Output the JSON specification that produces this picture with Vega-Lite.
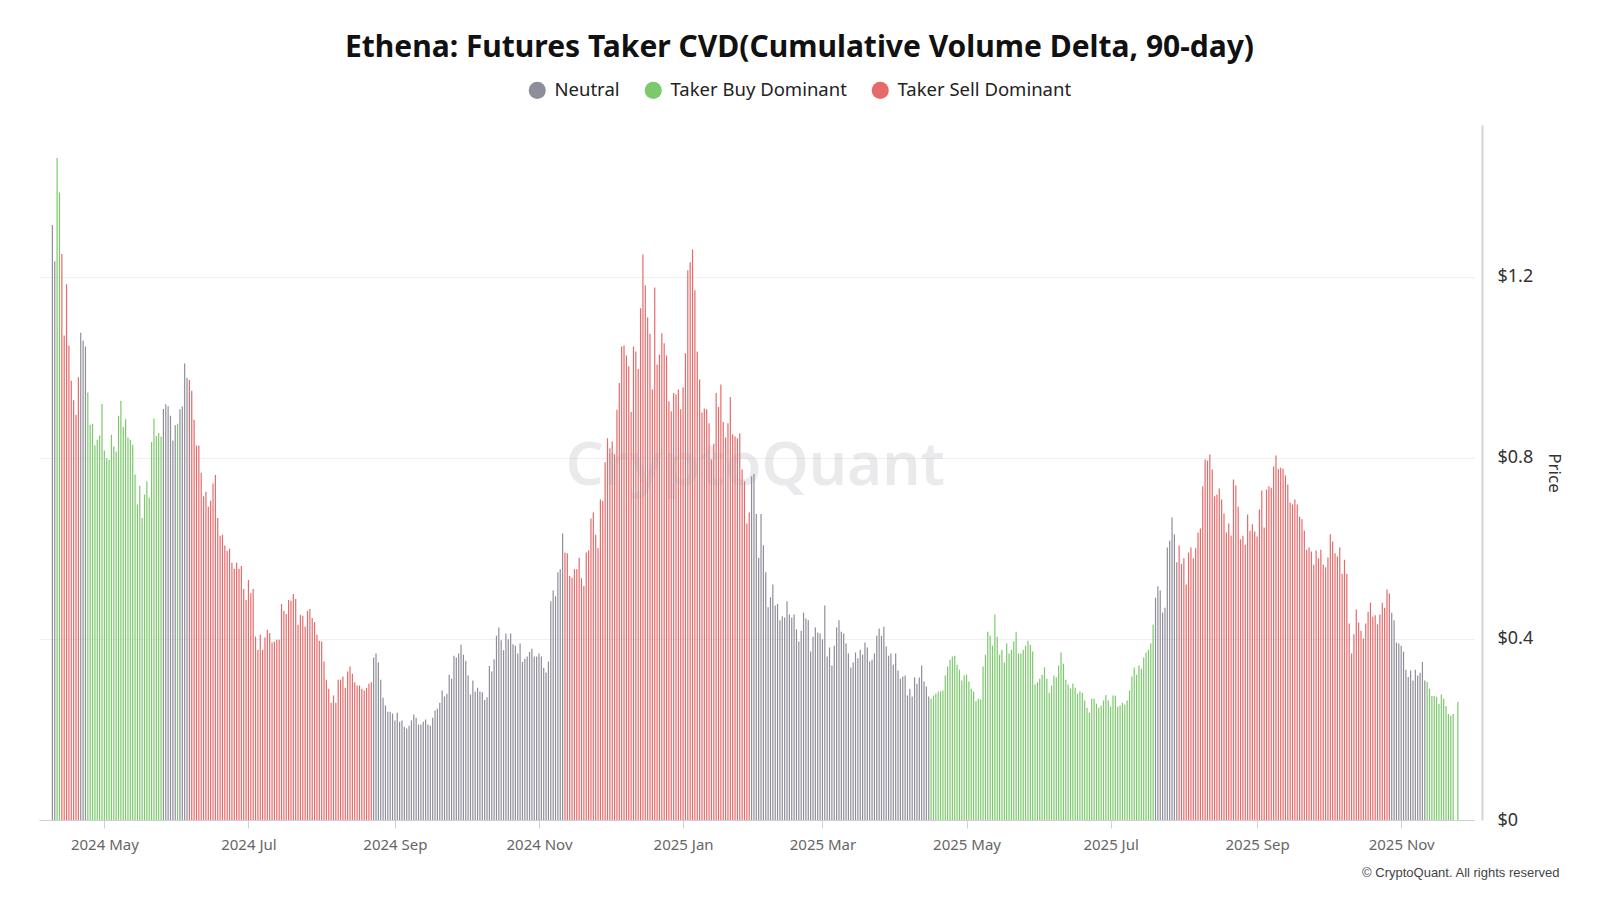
{
  "$schema": "https://vega.github.io/schema/vega-lite/v6.json",
  "width": 1435,
  "height": 695,
  "autosize": "none",
  "padding": {"left": 39, "top": 125, "right": 126, "bottom": 80},
  "background": "#ffffff",
  "config": {"view": {"stroke": null}, "font": "Noto Sans"},
  "title": {
    "text": "Ethena: Futures Taker CVD(Cumulative Volume Delta, 90-day)",
    "fontSize": 30,
    "fontWeight": "bold",
    "font": "Noto Sans",
    "color": "#111111",
    "anchor": "middle",
    "dx": 43,
    "offset": 18
  },
  "layer": [
    {
      "data": {
        "values": [
          {"d":"2024-04-09","v":1.314,"c":"N"},{"d":"2024-04-10","v":1.234,"c":"N"},{"d":"2024-04-11","v":1.462,"c":"B"},{"d":"2024-04-12","v":1.386,"c":"B"},
          {"d":"2024-04-13","v":1.250,"c":"S"},{"d":"2024-04-14","v":1.070,"c":"S"},{"d":"2024-04-15","v":1.183,"c":"S"},{"d":"2024-04-16","v":1.048,"c":"S"},
          {"d":"2024-04-17","v":0.970,"c":"S"},{"d":"2024-04-18","v":0.927,"c":"S"},{"d":"2024-04-19","v":0.895,"c":"S"},{"d":"2024-04-20","v":0.978,"c":"S"},
          {"d":"2024-04-21","v":1.076,"c":"N"},{"d":"2024-04-22","v":1.059,"c":"N"},{"d":"2024-04-23","v":1.046,"c":"N"},{"d":"2024-04-24","v":0.944,"c":"B"},
          {"d":"2024-04-25","v":0.873,"c":"B"},{"d":"2024-04-26","v":0.875,"c":"B"},{"d":"2024-04-27","v":0.827,"c":"B"},{"d":"2024-04-28","v":0.840,"c":"B"},
          {"d":"2024-04-29","v":0.849,"c":"B"},{"d":"2024-04-30","v":0.919,"c":"B"},
          {"d":"2024-05-01","v":0.816,"c":"B"},{"d":"2024-05-02","v":0.799,"c":"B"},{"d":"2024-05-03","v":0.795,"c":"B"},{"d":"2024-05-04","v":0.851,"c":"B"},
          {"d":"2024-05-05","v":0.825,"c":"B"},{"d":"2024-05-06","v":0.814,"c":"B"},{"d":"2024-05-07","v":0.893,"c":"B"},{"d":"2024-05-08","v":0.926,"c":"B"},
          {"d":"2024-05-09","v":0.868,"c":"B"},{"d":"2024-05-10","v":0.885,"c":"B"},{"d":"2024-05-11","v":0.845,"c":"B"},{"d":"2024-05-12","v":0.840,"c":"B"},
          {"d":"2024-05-13","v":0.829,"c":"B"},{"d":"2024-05-14","v":0.763,"c":"B"},{"d":"2024-05-15","v":0.697,"c":"B"},{"d":"2024-05-16","v":0.738,"c":"B"},
          {"d":"2024-05-17","v":0.667,"c":"B"},{"d":"2024-05-18","v":0.719,"c":"B"},{"d":"2024-05-19","v":0.748,"c":"B"},{"d":"2024-05-20","v":0.712,"c":"B"},
          {"d":"2024-05-21","v":0.835,"c":"B"},{"d":"2024-05-22","v":0.887,"c":"B"},{"d":"2024-05-23","v":0.848,"c":"B"},{"d":"2024-05-24","v":0.855,"c":"B"},
          {"d":"2024-05-25","v":0.847,"c":"B"},{"d":"2024-05-26","v":0.908,"c":"N"},{"d":"2024-05-27","v":0.918,"c":"N"},{"d":"2024-05-28","v":0.914,"c":"N"},
          {"d":"2024-05-29","v":0.893,"c":"N"},{"d":"2024-05-30","v":0.838,"c":"N"},{"d":"2024-05-31","v":0.872,"c":"N"},
          {"d":"2024-06-01","v":0.875,"c":"B"},{"d":"2024-06-02","v":0.907,"c":"N"},{"d":"2024-06-03","v":0.913,"c":"N"},{"d":"2024-06-04","v":1.008,"c":"N"},
          {"d":"2024-06-05","v":0.977,"c":"N"},{"d":"2024-06-06","v":0.972,"c":"S"},{"d":"2024-06-07","v":0.948,"c":"S"},{"d":"2024-06-08","v":0.884,"c":"S"},
          {"d":"2024-06-09","v":0.827,"c":"S"},{"d":"2024-06-10","v":0.827,"c":"S"},{"d":"2024-06-11","v":0.767,"c":"S"},{"d":"2024-06-12","v":0.715,"c":"S"},
          {"d":"2024-06-13","v":0.725,"c":"S"},{"d":"2024-06-14","v":0.692,"c":"S"},{"d":"2024-06-15","v":0.705,"c":"S"},{"d":"2024-06-16","v":0.743,"c":"S"},
          {"d":"2024-06-17","v":0.762,"c":"S"},{"d":"2024-06-18","v":0.667,"c":"S"},{"d":"2024-06-19","v":0.628,"c":"S"},{"d":"2024-06-20","v":0.630,"c":"S"},
          {"d":"2024-06-21","v":0.606,"c":"S"},{"d":"2024-06-22","v":0.594,"c":"S"},{"d":"2024-06-23","v":0.599,"c":"S"},{"d":"2024-06-24","v":0.568,"c":"S"},
          {"d":"2024-06-25","v":0.555,"c":"S"},{"d":"2024-06-26","v":0.568,"c":"S"},{"d":"2024-06-27","v":0.555,"c":"S"},{"d":"2024-06-28","v":0.561,"c":"S"},
          {"d":"2024-06-29","v":0.510,"c":"S"},{"d":"2024-06-30","v":0.486,"c":"S"},
          {"d":"2024-07-01","v":0.530,"c":"S"},{"d":"2024-07-02","v":0.501,"c":"S"},{"d":"2024-07-03","v":0.510,"c":"S"},{"d":"2024-07-04","v":0.405,"c":"S"},
          {"d":"2024-07-05","v":0.376,"c":"S"},{"d":"2024-07-06","v":0.409,"c":"S"},{"d":"2024-07-07","v":0.376,"c":"S"},{"d":"2024-07-08","v":0.403,"c":"S"},
          {"d":"2024-07-09","v":0.420,"c":"S"},{"d":"2024-07-10","v":0.413,"c":"S"},{"d":"2024-07-11","v":0.392,"c":"S"},{"d":"2024-07-12","v":0.394,"c":"S"},
          {"d":"2024-07-13","v":0.398,"c":"S"},{"d":"2024-07-14","v":0.398,"c":"S"},{"d":"2024-07-15","v":0.477,"c":"S"},{"d":"2024-07-16","v":0.462,"c":"S"},
          {"d":"2024-07-17","v":0.455,"c":"S"},{"d":"2024-07-18","v":0.486,"c":"S"},{"d":"2024-07-19","v":0.484,"c":"S"},{"d":"2024-07-20","v":0.499,"c":"S"},
          {"d":"2024-07-21","v":0.488,"c":"S"},{"d":"2024-07-22","v":0.431,"c":"S"},{"d":"2024-07-23","v":0.453,"c":"S"},{"d":"2024-07-24","v":0.451,"c":"S"},
          {"d":"2024-07-25","v":0.427,"c":"S"},{"d":"2024-07-26","v":0.462,"c":"S"},{"d":"2024-07-27","v":0.466,"c":"S"},{"d":"2024-07-28","v":0.446,"c":"S"},
          {"d":"2024-07-29","v":0.437,"c":"S"},{"d":"2024-07-30","v":0.409,"c":"S"},{"d":"2024-07-31","v":0.396,"c":"S"},
          {"d":"2024-08-01","v":0.394,"c":"S"},{"d":"2024-08-02","v":0.350,"c":"S"},{"d":"2024-08-03","v":0.310,"c":"S"},{"d":"2024-08-04","v":0.290,"c":"S"},
          {"d":"2024-08-05","v":0.259,"c":"S"},{"d":"2024-08-06","v":0.275,"c":"S"},{"d":"2024-08-07","v":0.259,"c":"S"},{"d":"2024-08-08","v":0.310,"c":"S"},
          {"d":"2024-08-09","v":0.310,"c":"S"},{"d":"2024-08-10","v":0.317,"c":"S"},{"d":"2024-08-11","v":0.292,"c":"S"},{"d":"2024-08-12","v":0.328,"c":"S"},
          {"d":"2024-08-13","v":0.339,"c":"S"},{"d":"2024-08-14","v":0.323,"c":"S"},{"d":"2024-08-15","v":0.304,"c":"S"},{"d":"2024-08-16","v":0.297,"c":"S"},
          {"d":"2024-08-17","v":0.297,"c":"S"},{"d":"2024-08-18","v":0.290,"c":"S"},{"d":"2024-08-19","v":0.286,"c":"S"},{"d":"2024-08-20","v":0.292,"c":"S"},
          {"d":"2024-08-21","v":0.301,"c":"S"},{"d":"2024-08-22","v":0.304,"c":"S"},{"d":"2024-08-23","v":0.359,"c":"N"},{"d":"2024-08-24","v":0.368,"c":"N"},
          {"d":"2024-08-25","v":0.348,"c":"N"},{"d":"2024-08-26","v":0.310,"c":"N"},{"d":"2024-08-27","v":0.270,"c":"N"},{"d":"2024-08-28","v":0.253,"c":"N"},
          {"d":"2024-08-29","v":0.239,"c":"N"},{"d":"2024-08-30","v":0.239,"c":"N"},{"d":"2024-08-31","v":0.235,"c":"N"},
          {"d":"2024-09-01","v":0.220,"c":"N"},{"d":"2024-09-02","v":0.237,"c":"N"},{"d":"2024-09-03","v":0.217,"c":"N"},{"d":"2024-09-04","v":0.220,"c":"N"},
          {"d":"2024-09-05","v":0.206,"c":"N"},{"d":"2024-09-06","v":0.202,"c":"N"},{"d":"2024-09-07","v":0.208,"c":"N"},{"d":"2024-09-08","v":0.220,"c":"N"},
          {"d":"2024-09-09","v":0.233,"c":"N"},{"d":"2024-09-10","v":0.226,"c":"N"},{"d":"2024-09-11","v":0.211,"c":"N"},{"d":"2024-09-12","v":0.211,"c":"N"},
          {"d":"2024-09-13","v":0.217,"c":"N"},{"d":"2024-09-14","v":0.222,"c":"N"},{"d":"2024-09-15","v":0.211,"c":"N"},{"d":"2024-09-16","v":0.208,"c":"N"},
          {"d":"2024-09-17","v":0.226,"c":"N"},{"d":"2024-09-18","v":0.242,"c":"N"},{"d":"2024-09-19","v":0.246,"c":"N"},{"d":"2024-09-20","v":0.259,"c":"N"},
          {"d":"2024-09-21","v":0.286,"c":"N"},{"d":"2024-09-22","v":0.273,"c":"N"},{"d":"2024-09-23","v":0.279,"c":"N"},{"d":"2024-09-24","v":0.321,"c":"N"},
          {"d":"2024-09-25","v":0.312,"c":"N"},{"d":"2024-09-26","v":0.363,"c":"N"},{"d":"2024-09-27","v":0.359,"c":"N"},{"d":"2024-09-28","v":0.368,"c":"N"},
          {"d":"2024-09-29","v":0.387,"c":"N"},{"d":"2024-09-30","v":0.365,"c":"N"},
          {"d":"2024-10-01","v":0.352,"c":"N"},{"d":"2024-10-02","v":0.319,"c":"N"},{"d":"2024-10-03","v":0.277,"c":"N"},{"d":"2024-10-04","v":0.308,"c":"N"},
          {"d":"2024-10-05","v":0.284,"c":"N"},{"d":"2024-10-06","v":0.292,"c":"N"},{"d":"2024-10-07","v":0.284,"c":"N"},{"d":"2024-10-08","v":0.282,"c":"N"},
          {"d":"2024-10-09","v":0.265,"c":"N"},{"d":"2024-10-10","v":0.271,"c":"N"},{"d":"2024-10-11","v":0.340,"c":"N"},{"d":"2024-10-12","v":0.328,"c":"N"},
          {"d":"2024-10-13","v":0.355,"c":"N"},{"d":"2024-10-14","v":0.407,"c":"N"},{"d":"2024-10-15","v":0.425,"c":"N"},{"d":"2024-10-16","v":0.397,"c":"N"},
          {"d":"2024-10-17","v":0.375,"c":"N"},{"d":"2024-10-18","v":0.412,"c":"N"},{"d":"2024-10-19","v":0.399,"c":"N"},{"d":"2024-10-20","v":0.412,"c":"N"},
          {"d":"2024-10-21","v":0.388,"c":"N"},{"d":"2024-10-22","v":0.385,"c":"N"},{"d":"2024-10-23","v":0.368,"c":"N"},{"d":"2024-10-24","v":0.390,"c":"N"},
          {"d":"2024-10-25","v":0.349,"c":"N"},{"d":"2024-10-26","v":0.356,"c":"N"},{"d":"2024-10-27","v":0.361,"c":"N"},{"d":"2024-10-28","v":0.371,"c":"N"},
          {"d":"2024-10-29","v":0.378,"c":"N"},{"d":"2024-10-30","v":0.361,"c":"N"},{"d":"2024-10-31","v":0.361,"c":"N"},
          {"d":"2024-11-01","v":0.368,"c":"N"},{"d":"2024-11-02","v":0.361,"c":"N"},{"d":"2024-11-03","v":0.336,"c":"N"},{"d":"2024-11-04","v":0.326,"c":"N"},
          {"d":"2024-11-05","v":0.350,"c":"N"},{"d":"2024-11-06","v":0.483,"c":"N"},{"d":"2024-11-07","v":0.507,"c":"N"},{"d":"2024-11-08","v":0.494,"c":"N"},
          {"d":"2024-11-09","v":0.547,"c":"N"},{"d":"2024-11-10","v":0.554,"c":"N"},{"d":"2024-11-11","v":0.633,"c":"N"},{"d":"2024-11-12","v":0.591,"c":"S"},
          {"d":"2024-11-13","v":0.589,"c":"S"},{"d":"2024-11-14","v":0.539,"c":"S"},{"d":"2024-11-15","v":0.535,"c":"S"},{"d":"2024-11-16","v":0.554,"c":"S"},
          {"d":"2024-11-17","v":0.554,"c":"S"},{"d":"2024-11-18","v":0.579,"c":"S"},{"d":"2024-11-19","v":0.534,"c":"S"},{"d":"2024-11-20","v":0.517,"c":"S"},
          {"d":"2024-11-21","v":0.591,"c":"S"},{"d":"2024-11-22","v":0.596,"c":"S"},{"d":"2024-11-23","v":0.666,"c":"S"},{"d":"2024-11-24","v":0.679,"c":"S"},
          {"d":"2024-11-25","v":0.630,"c":"S"},{"d":"2024-11-26","v":0.601,"c":"S"},{"d":"2024-11-27","v":0.708,"c":"S"},{"d":"2024-11-28","v":0.705,"c":"S"},
          {"d":"2024-11-29","v":0.790,"c":"S"},{"d":"2024-11-30","v":0.843,"c":"S"},
          {"d":"2024-12-01","v":0.821,"c":"S"},{"d":"2024-12-02","v":0.836,"c":"S"},{"d":"2024-12-03","v":0.808,"c":"S"},{"d":"2024-12-04","v":0.906,"c":"S"},
          {"d":"2024-12-05","v":0.965,"c":"S"},{"d":"2024-12-06","v":1.046,"c":"S"},{"d":"2024-12-07","v":1.048,"c":"S"},{"d":"2024-12-08","v":1.026,"c":"S"},
          {"d":"2024-12-09","v":1.002,"c":"S"},{"d":"2024-12-10","v":0.901,"c":"S"},{"d":"2024-12-11","v":1.046,"c":"S"},{"d":"2024-12-12","v":1.035,"c":"S"},
          {"d":"2024-12-13","v":0.996,"c":"S"},{"d":"2024-12-14","v":1.130,"c":"S"},{"d":"2024-12-15","v":1.249,"c":"S"},{"d":"2024-12-16","v":1.181,"c":"S"},
          {"d":"2024-12-17","v":1.110,"c":"S"},{"d":"2024-12-18","v":1.074,"c":"S"},{"d":"2024-12-19","v":0.951,"c":"S"},{"d":"2024-12-20","v":1.176,"c":"S"},
          {"d":"2024-12-21","v":1.006,"c":"S"},{"d":"2024-12-22","v":1.028,"c":"S"},{"d":"2024-12-23","v":1.075,"c":"S"},{"d":"2024-12-24","v":1.053,"c":"S"},
          {"d":"2024-12-25","v":1.026,"c":"S"},{"d":"2024-12-26","v":0.925,"c":"S"},{"d":"2024-12-27","v":0.903,"c":"S"},{"d":"2024-12-28","v":0.943,"c":"S"},
          {"d":"2024-12-29","v":0.940,"c":"S"},{"d":"2024-12-30","v":0.951,"c":"S"},{"d":"2024-12-31","v":0.907,"c":"S"},
          {"d":"2025-01-01","v":0.956,"c":"S"},{"d":"2025-01-02","v":1.031,"c":"S"},{"d":"2025-01-03","v":1.214,"c":"S"},{"d":"2025-01-04","v":1.232,"c":"S"},
          {"d":"2025-01-05","v":1.260,"c":"S"},{"d":"2025-01-06","v":1.170,"c":"S"},{"d":"2025-01-07","v":1.035,"c":"S"},{"d":"2025-01-08","v":0.973,"c":"S"},
          {"d":"2025-01-09","v":0.900,"c":"S"},{"d":"2025-01-10","v":0.909,"c":"S"},{"d":"2025-01-11","v":0.907,"c":"S"},{"d":"2025-01-12","v":0.876,"c":"S"},
          {"d":"2025-01-13","v":0.796,"c":"S"},{"d":"2025-01-14","v":0.831,"c":"S"},{"d":"2025-01-15","v":0.943,"c":"S"},{"d":"2025-01-16","v":0.912,"c":"S"},
          {"d":"2025-01-17","v":0.962,"c":"S"},{"d":"2025-01-18","v":0.879,"c":"S"},{"d":"2025-01-19","v":0.845,"c":"S"},{"d":"2025-01-20","v":0.876,"c":"S"},
          {"d":"2025-01-21","v":0.934,"c":"S"},{"d":"2025-01-22","v":0.852,"c":"S"},{"d":"2025-01-23","v":0.847,"c":"S"},{"d":"2025-01-24","v":0.843,"c":"S"},
          {"d":"2025-01-25","v":0.854,"c":"S"},{"d":"2025-01-26","v":0.774,"c":"S"},{"d":"2025-01-27","v":0.748,"c":"S"},{"d":"2025-01-28","v":0.655,"c":"S"},
          {"d":"2025-01-29","v":0.679,"c":"S"},{"d":"2025-01-30","v":0.759,"c":"N"},{"d":"2025-01-31","v":0.764,"c":"N"},
          {"d":"2025-02-01","v":0.676,"c":"N"},{"d":"2025-02-02","v":0.579,"c":"N"},{"d":"2025-02-03","v":0.676,"c":"N"},{"d":"2025-02-04","v":0.607,"c":"N"},
          {"d":"2025-02-05","v":0.547,"c":"N"},{"d":"2025-02-06","v":0.470,"c":"N"},{"d":"2025-02-07","v":0.492,"c":"N"},{"d":"2025-02-08","v":0.520,"c":"N"},
          {"d":"2025-02-09","v":0.474,"c":"N"},{"d":"2025-02-10","v":0.477,"c":"N"},{"d":"2025-02-11","v":0.441,"c":"N"},{"d":"2025-02-12","v":0.450,"c":"N"},
          {"d":"2025-02-13","v":0.447,"c":"N"},{"d":"2025-02-14","v":0.483,"c":"N"},{"d":"2025-02-15","v":0.454,"c":"N"},{"d":"2025-02-16","v":0.447,"c":"N"},
          {"d":"2025-02-17","v":0.454,"c":"N"},{"d":"2025-02-18","v":0.421,"c":"N"},{"d":"2025-02-19","v":0.394,"c":"N"},{"d":"2025-02-20","v":0.418,"c":"N"},
          {"d":"2025-02-21","v":0.458,"c":"N"},{"d":"2025-02-22","v":0.445,"c":"N"},{"d":"2025-02-23","v":0.441,"c":"N"},{"d":"2025-02-24","v":0.372,"c":"N"},
          {"d":"2025-02-25","v":0.405,"c":"N"},{"d":"2025-02-26","v":0.425,"c":"N"},{"d":"2025-02-27","v":0.414,"c":"N"},{"d":"2025-02-28","v":0.412,"c":"N"},
          {"d":"2025-03-01","v":0.399,"c":"N"},{"d":"2025-03-02","v":0.474,"c":"N"},{"d":"2025-03-03","v":0.361,"c":"N"},{"d":"2025-03-04","v":0.381,"c":"N"},
          {"d":"2025-03-05","v":0.341,"c":"N"},{"d":"2025-03-06","v":0.385,"c":"N"},{"d":"2025-03-07","v":0.425,"c":"N"},{"d":"2025-03-08","v":0.441,"c":"N"},
          {"d":"2025-03-09","v":0.416,"c":"N"},{"d":"2025-03-10","v":0.412,"c":"N"},{"d":"2025-03-11","v":0.390,"c":"N"},{"d":"2025-03-12","v":0.368,"c":"N"},
          {"d":"2025-03-13","v":0.337,"c":"N"},{"d":"2025-03-14","v":0.348,"c":"N"},{"d":"2025-03-15","v":0.370,"c":"N"},{"d":"2025-03-16","v":0.357,"c":"N"},
          {"d":"2025-03-17","v":0.376,"c":"N"},{"d":"2025-03-18","v":0.365,"c":"N"},{"d":"2025-03-19","v":0.392,"c":"N"},{"d":"2025-03-20","v":0.381,"c":"N"},
          {"d":"2025-03-21","v":0.350,"c":"N"},{"d":"2025-03-22","v":0.354,"c":"N"},{"d":"2025-03-23","v":0.368,"c":"N"},{"d":"2025-03-24","v":0.407,"c":"N"},
          {"d":"2025-03-25","v":0.423,"c":"N"},{"d":"2025-03-26","v":0.407,"c":"N"},{"d":"2025-03-27","v":0.427,"c":"N"},{"d":"2025-03-28","v":0.383,"c":"N"},
          {"d":"2025-03-29","v":0.363,"c":"N"},{"d":"2025-03-30","v":0.368,"c":"N"},{"d":"2025-03-31","v":0.343,"c":"N"},
          {"d":"2025-04-01","v":0.368,"c":"N"},{"d":"2025-04-02","v":0.330,"c":"N"},{"d":"2025-04-03","v":0.312,"c":"N"},{"d":"2025-04-04","v":0.317,"c":"N"},
          {"d":"2025-04-05","v":0.319,"c":"N"},{"d":"2025-04-06","v":0.275,"c":"N"},{"d":"2025-04-07","v":0.290,"c":"N"},{"d":"2025-04-08","v":0.273,"c":"N"},
          {"d":"2025-04-09","v":0.315,"c":"N"},{"d":"2025-04-10","v":0.301,"c":"N"},{"d":"2025-04-11","v":0.315,"c":"N"},{"d":"2025-04-12","v":0.341,"c":"N"},
          {"d":"2025-04-13","v":0.306,"c":"N"},{"d":"2025-04-14","v":0.295,"c":"N"},{"d":"2025-04-15","v":0.273,"c":"N"},{"d":"2025-04-16","v":0.268,"c":"B"},
          {"d":"2025-04-17","v":0.275,"c":"B"},{"d":"2025-04-18","v":0.279,"c":"B"},{"d":"2025-04-19","v":0.284,"c":"B"},{"d":"2025-04-20","v":0.284,"c":"B"},
          {"d":"2025-04-21","v":0.286,"c":"B"},{"d":"2025-04-22","v":0.319,"c":"B"},{"d":"2025-04-23","v":0.339,"c":"B"},{"d":"2025-04-24","v":0.354,"c":"B"},
          {"d":"2025-04-25","v":0.361,"c":"B"},{"d":"2025-04-26","v":0.363,"c":"B"},{"d":"2025-04-27","v":0.343,"c":"B"},{"d":"2025-04-28","v":0.332,"c":"B"},
          {"d":"2025-04-29","v":0.308,"c":"B"},{"d":"2025-04-30","v":0.319,"c":"B"},
          {"d":"2025-05-01","v":0.321,"c":"B"},{"d":"2025-05-02","v":0.306,"c":"B"},{"d":"2025-05-03","v":0.290,"c":"B"},{"d":"2025-05-04","v":0.284,"c":"B"},
          {"d":"2025-05-05","v":0.262,"c":"B"},{"d":"2025-05-06","v":0.268,"c":"B"},{"d":"2025-05-07","v":0.266,"c":"B"},{"d":"2025-05-08","v":0.339,"c":"B"},
          {"d":"2025-05-09","v":0.365,"c":"B"},{"d":"2025-05-10","v":0.416,"c":"B"},{"d":"2025-05-11","v":0.407,"c":"B"},{"d":"2025-05-12","v":0.385,"c":"B"},
          {"d":"2025-05-13","v":0.454,"c":"B"},{"d":"2025-05-14","v":0.405,"c":"B"},{"d":"2025-05-15","v":0.365,"c":"B"},{"d":"2025-05-16","v":0.376,"c":"B"},
          {"d":"2025-05-17","v":0.348,"c":"B"},{"d":"2025-05-18","v":0.390,"c":"B"},{"d":"2025-05-19","v":0.368,"c":"B"},{"d":"2025-05-20","v":0.376,"c":"B"},
          {"d":"2025-05-21","v":0.394,"c":"B"},{"d":"2025-05-22","v":0.416,"c":"B"},{"d":"2025-05-23","v":0.368,"c":"B"},{"d":"2025-05-24","v":0.368,"c":"B"},
          {"d":"2025-05-25","v":0.376,"c":"B"},{"d":"2025-05-26","v":0.385,"c":"B"},{"d":"2025-05-27","v":0.396,"c":"B"},{"d":"2025-05-28","v":0.387,"c":"B"},
          {"d":"2025-05-29","v":0.372,"c":"B"},{"d":"2025-05-30","v":0.299,"c":"B"},{"d":"2025-05-31","v":0.304,"c":"B"},
          {"d":"2025-06-01","v":0.312,"c":"B"},{"d":"2025-06-02","v":0.321,"c":"B"},{"d":"2025-06-03","v":0.337,"c":"B"},{"d":"2025-06-04","v":0.312,"c":"B"},
          {"d":"2025-06-05","v":0.281,"c":"B"},{"d":"2025-06-06","v":0.297,"c":"B"},{"d":"2025-06-07","v":0.319,"c":"B"},{"d":"2025-06-08","v":0.315,"c":"B"},
          {"d":"2025-06-09","v":0.341,"c":"B"},{"d":"2025-06-10","v":0.370,"c":"B"},{"d":"2025-06-11","v":0.345,"c":"B"},{"d":"2025-06-12","v":0.310,"c":"B"},
          {"d":"2025-06-13","v":0.299,"c":"B"},{"d":"2025-06-14","v":0.290,"c":"B"},{"d":"2025-06-15","v":0.301,"c":"B"},{"d":"2025-06-16","v":0.292,"c":"B"},
          {"d":"2025-06-17","v":0.279,"c":"B"},{"d":"2025-06-18","v":0.284,"c":"B"},{"d":"2025-06-19","v":0.281,"c":"B"},{"d":"2025-06-20","v":0.264,"c":"B"},
          {"d":"2025-06-21","v":0.248,"c":"B"},{"d":"2025-06-22","v":0.237,"c":"B"},{"d":"2025-06-23","v":0.268,"c":"B"},{"d":"2025-06-24","v":0.268,"c":"B"},
          {"d":"2025-06-25","v":0.257,"c":"B"},{"d":"2025-06-26","v":0.248,"c":"B"},{"d":"2025-06-27","v":0.253,"c":"B"},{"d":"2025-06-28","v":0.264,"c":"B"},
          {"d":"2025-06-29","v":0.276,"c":"B"},{"d":"2025-06-30","v":0.264,"c":"B"},
          {"d":"2025-07-01","v":0.250,"c":"B"},{"d":"2025-07-02","v":0.275,"c":"B"},{"d":"2025-07-03","v":0.275,"c":"B"},{"d":"2025-07-04","v":0.250,"c":"B"},
          {"d":"2025-07-05","v":0.253,"c":"B"},{"d":"2025-07-06","v":0.259,"c":"B"},{"d":"2025-07-07","v":0.255,"c":"B"},{"d":"2025-07-08","v":0.264,"c":"B"},
          {"d":"2025-07-09","v":0.286,"c":"B"},{"d":"2025-07-10","v":0.317,"c":"B"},{"d":"2025-07-11","v":0.337,"c":"B"},{"d":"2025-07-12","v":0.321,"c":"B"},
          {"d":"2025-07-13","v":0.341,"c":"B"},{"d":"2025-07-14","v":0.334,"c":"B"},{"d":"2025-07-15","v":0.359,"c":"B"},{"d":"2025-07-16","v":0.370,"c":"B"},
          {"d":"2025-07-17","v":0.376,"c":"B"},{"d":"2025-07-18","v":0.390,"c":"B"},{"d":"2025-07-19","v":0.432,"c":"B"},{"d":"2025-07-20","v":0.491,"c":"N"},
          {"d":"2025-07-21","v":0.516,"c":"N"},{"d":"2025-07-22","v":0.507,"c":"N"},{"d":"2025-07-23","v":0.458,"c":"N"},{"d":"2025-07-24","v":0.469,"c":"N"},
          {"d":"2025-07-25","v":0.602,"c":"N"},{"d":"2025-07-26","v":0.617,"c":"N"},{"d":"2025-07-27","v":0.668,"c":"N"},{"d":"2025-07-28","v":0.631,"c":"N"},
          {"d":"2025-07-29","v":0.569,"c":"N"},{"d":"2025-07-30","v":0.606,"c":"S"},{"d":"2025-07-31","v":0.566,"c":"S"},
          {"d":"2025-08-01","v":0.578,"c":"S"},{"d":"2025-08-02","v":0.520,"c":"S"},{"d":"2025-08-03","v":0.591,"c":"S"},{"d":"2025-08-04","v":0.602,"c":"S"},
          {"d":"2025-08-05","v":0.578,"c":"S"},{"d":"2025-08-06","v":0.600,"c":"S"},{"d":"2025-08-07","v":0.635,"c":"S"},{"d":"2025-08-08","v":0.644,"c":"S"},
          {"d":"2025-08-09","v":0.737,"c":"S"},{"d":"2025-08-10","v":0.796,"c":"S"},{"d":"2025-08-11","v":0.794,"c":"S"},{"d":"2025-08-12","v":0.807,"c":"S"},
          {"d":"2025-08-13","v":0.774,"c":"S"},{"d":"2025-08-14","v":0.715,"c":"S"},{"d":"2025-08-15","v":0.719,"c":"S"},{"d":"2025-08-16","v":0.732,"c":"S"},
          {"d":"2025-08-17","v":0.708,"c":"S"},{"d":"2025-08-18","v":0.677,"c":"S"},{"d":"2025-08-19","v":0.635,"c":"S"},{"d":"2025-08-20","v":0.655,"c":"S"},
          {"d":"2025-08-21","v":0.628,"c":"S"},{"d":"2025-08-22","v":0.752,"c":"S"},{"d":"2025-08-23","v":0.739,"c":"S"},{"d":"2025-08-24","v":0.692,"c":"S"},
          {"d":"2025-08-25","v":0.620,"c":"S"},{"d":"2025-08-26","v":0.628,"c":"S"},{"d":"2025-08-27","v":0.608,"c":"S"},{"d":"2025-08-28","v":0.675,"c":"S"},
          {"d":"2025-08-29","v":0.639,"c":"S"},{"d":"2025-08-30","v":0.653,"c":"S"},{"d":"2025-08-31","v":0.637,"c":"S"},
          {"d":"2025-09-01","v":0.626,"c":"S"},{"d":"2025-09-02","v":0.686,"c":"S"},{"d":"2025-09-03","v":0.728,"c":"S"},{"d":"2025-09-04","v":0.646,"c":"S"},
          {"d":"2025-09-05","v":0.730,"c":"S"},{"d":"2025-09-06","v":0.737,"c":"S"},{"d":"2025-09-07","v":0.734,"c":"S"},{"d":"2025-09-08","v":0.781,"c":"S"},
          {"d":"2025-09-09","v":0.805,"c":"S"},{"d":"2025-09-10","v":0.776,"c":"S"},{"d":"2025-09-11","v":0.778,"c":"S"},{"d":"2025-09-12","v":0.776,"c":"S"},
          {"d":"2025-09-13","v":0.761,"c":"S"},{"d":"2025-09-14","v":0.741,"c":"S"},{"d":"2025-09-15","v":0.701,"c":"S"},{"d":"2025-09-16","v":0.697,"c":"S"},
          {"d":"2025-09-17","v":0.708,"c":"S"},{"d":"2025-09-18","v":0.697,"c":"S"},{"d":"2025-09-19","v":0.670,"c":"S"},{"d":"2025-09-20","v":0.664,"c":"S"},
          {"d":"2025-09-21","v":0.639,"c":"S"},{"d":"2025-09-22","v":0.597,"c":"S"},{"d":"2025-09-23","v":0.602,"c":"S"},{"d":"2025-09-24","v":0.593,"c":"S"},
          {"d":"2025-09-25","v":0.564,"c":"S"},{"d":"2025-09-26","v":0.595,"c":"S"},{"d":"2025-09-27","v":0.578,"c":"S"},{"d":"2025-09-28","v":0.597,"c":"S"},
          {"d":"2025-09-29","v":0.564,"c":"S"},{"d":"2025-09-30","v":0.558,"c":"S"},
          {"d":"2025-10-01","v":0.580,"c":"S"},{"d":"2025-10-02","v":0.631,"c":"S"},{"d":"2025-10-03","v":0.615,"c":"S"},{"d":"2025-10-04","v":0.589,"c":"S"},
          {"d":"2025-10-05","v":0.582,"c":"S"},{"d":"2025-10-06","v":0.602,"c":"S"},{"d":"2025-10-07","v":0.544,"c":"S"},{"d":"2025-10-08","v":0.575,"c":"S"},
          {"d":"2025-10-09","v":0.544,"c":"S"},{"d":"2025-10-10","v":0.434,"c":"S"},{"d":"2025-10-11","v":0.368,"c":"S"},{"d":"2025-10-12","v":0.410,"c":"S"},
          {"d":"2025-10-13","v":0.465,"c":"S"},{"d":"2025-10-14","v":0.436,"c":"S"},{"d":"2025-10-15","v":0.418,"c":"S"},{"d":"2025-10-16","v":0.401,"c":"S"},
          {"d":"2025-10-17","v":0.434,"c":"S"},{"d":"2025-10-18","v":0.460,"c":"S"},{"d":"2025-10-19","v":0.480,"c":"S"},{"d":"2025-10-20","v":0.449,"c":"S"},
          {"d":"2025-10-21","v":0.452,"c":"S"},{"d":"2025-10-22","v":0.432,"c":"S"},{"d":"2025-10-23","v":0.454,"c":"S"},{"d":"2025-10-24","v":0.480,"c":"S"},
          {"d":"2025-10-25","v":0.469,"c":"S"},{"d":"2025-10-26","v":0.509,"c":"S"},{"d":"2025-10-27","v":0.500,"c":"S"},{"d":"2025-10-28","v":0.458,"c":"N"},
          {"d":"2025-10-29","v":0.441,"c":"N"},{"d":"2025-10-30","v":0.392,"c":"N"},{"d":"2025-10-31","v":0.390,"c":"N"},
          {"d":"2025-11-01","v":0.385,"c":"N"},{"d":"2025-11-02","v":0.372,"c":"N"},{"d":"2025-11-03","v":0.332,"c":"N"},{"d":"2025-11-04","v":0.316,"c":"N"},
          {"d":"2025-11-05","v":0.330,"c":"N"},{"d":"2025-11-06","v":0.308,"c":"N"},{"d":"2025-11-07","v":0.332,"c":"N"},{"d":"2025-11-08","v":0.319,"c":"N"},
          {"d":"2025-11-09","v":0.325,"c":"N"},{"d":"2025-11-10","v":0.349,"c":"N"},{"d":"2025-11-11","v":0.308,"c":"N"},{"d":"2025-11-12","v":0.305,"c":"B"},
          {"d":"2025-11-13","v":0.290,"c":"B"},{"d":"2025-11-14","v":0.274,"c":"B"},{"d":"2025-11-15","v":0.274,"c":"B"},{"d":"2025-11-16","v":0.272,"c":"B"},
          {"d":"2025-11-17","v":0.257,"c":"B"},{"d":"2025-11-18","v":0.277,"c":"B"},{"d":"2025-11-19","v":0.268,"c":"B"},{"d":"2025-11-20","v":0.252,"c":"B"},
          {"d":"2025-11-21","v":0.234,"c":"B"},{"d":"2025-11-22","v":0.230,"c":"B"},{"d":"2025-11-23","v":0.234,"c":"B"},{"d":"2025-11-25","v":0.261,"c":"B"}
        ]
      },
      "mark": {"type": "bar", "size": 1.2},
      "encoding": {
        "x": {
          "field": "d",
          "type": "temporal",
          "scale": {
            "type": "utc",
            "padding": 0,
            "domain": [
              {"year": 2024, "month": 4, "date": 3, "hours": 8, "utc": true},
              {"year": 2025, "month": 12, "date": 1, "hours": 20, "utc": true}
            ]
          },
          "axis": {
            "values": [
              {"year": 2024, "month": 5, "date": 1, "utc": true},
              {"year": 2024, "month": 7, "date": 1, "utc": true},
              {"year": 2024, "month": 9, "date": 1, "utc": true},
              {"year": 2024, "month": 11, "date": 1, "utc": true},
              {"year": 2025, "month": 1, "date": 1, "utc": true},
              {"year": 2025, "month": 3, "date": 1, "utc": true},
              {"year": 2025, "month": 5, "date": 1, "utc": true},
              {"year": 2025, "month": 7, "date": 1, "utc": true},
              {"year": 2025, "month": 9, "date": 1, "utc": true},
              {"year": 2025, "month": 11, "date": 1, "utc": true}
            ],
            "labelExpr": "utcFormat(datum.value, '%Y %b')",
            "labelFlush": false,
            "labelOverlap": false,
            "ticks": true,
            "tickColor": "#d0d0d8",
            "tickSize": 8,
            "grid": false,
            "domainColor": "#cfcfd8",
            "labelFont": "Noto Sans",
            "labelFontSize": 15,
            "labelColor": "#666666",
            "labelPadding": 9,
            "title": "© CryptoQuant. All rights reserved",
            "titleX": 1520,
            "titleY": 52,
            "titleAlign": "right",
            "titleBaseline": "middle",
            "titleFont": "Liberation Sans",
            "titleFontSize": 13,
            "titleFontWeight": "normal",
            "titleColor": "#444444"
          }
        },
        "y": {
          "field": "v",
          "type": "quantitative",
          "scale": {"domain": [0, 1.535], "nice": false},
          "axis": {
            "orient": "right",
            "values": [0, 0.4, 0.8, 1.2],
            "labelExpr": "'$' + datum.value",
            "grid": true,
            "gridColor": "#f0f0f2",
            "ticks": false,
            "domainColor": "#d4d4dc",
            "domainWidth": 2,
            "offset": 8,
            "labelFont": "Noto Sans",
            "labelFontSize": 18,
            "labelColor": "#333333",
            "labelPadding": 15,
            "title": "Price",
            "titleAngle": 90,
            "titleFont": "Noto Sans",
            "titleFontSize": 17,
            "titleFontWeight": "normal",
            "titleColor": "#333333",
            "titlePadding": 12
          }
        },
        "color": {
          "field": "c",
          "type": "nominal",
          "scale": {"domain": ["N", "B", "S"], "range": ["#8e8e9a", "#7bc96b", "#e66a6a"]},
          "legend": {
            "orient": "none",
            "legendX": 489,
            "legendY": -44,
            "direction": "horizontal",
            "title": null,
            "symbolType": "circle",
            "symbolSize": 290,
            "symbolStrokeWidth": 0,
            "labelFont": "Noto Sans",
            "labelFontSize": 18.5,
            "labelColor": "#222222",
            "labelOffset": 8,
            "labelLimit": 400,
            "columnPadding": 24,
            "labelExpr": "datum.label === 'N' ? 'Neutral' : datum.label === 'B' ? 'Taker Buy Dominant' : 'Taker Sell Dominant'"
          }
        }
      }
    },
    {
      "data": {"values": [{"t": "CryptoQuant"}]},
      "mark": {"type": "text", "font": "Noto Sans", "fontSize": 60, "fontWeight": 600, "align": "center", "baseline": "middle", "color": "#9a9aa8", "opacity": 0.2},
      "encoding": {
        "x": {"datum": {"year": 2025, "month": 1, "date": 31, "hours": 12, "utc": true}, "type": "temporal"},
        "y": {"datum": 0.78, "type": "quantitative"},
        "text": {"field": "t"}
      }
    }
  ]
}
